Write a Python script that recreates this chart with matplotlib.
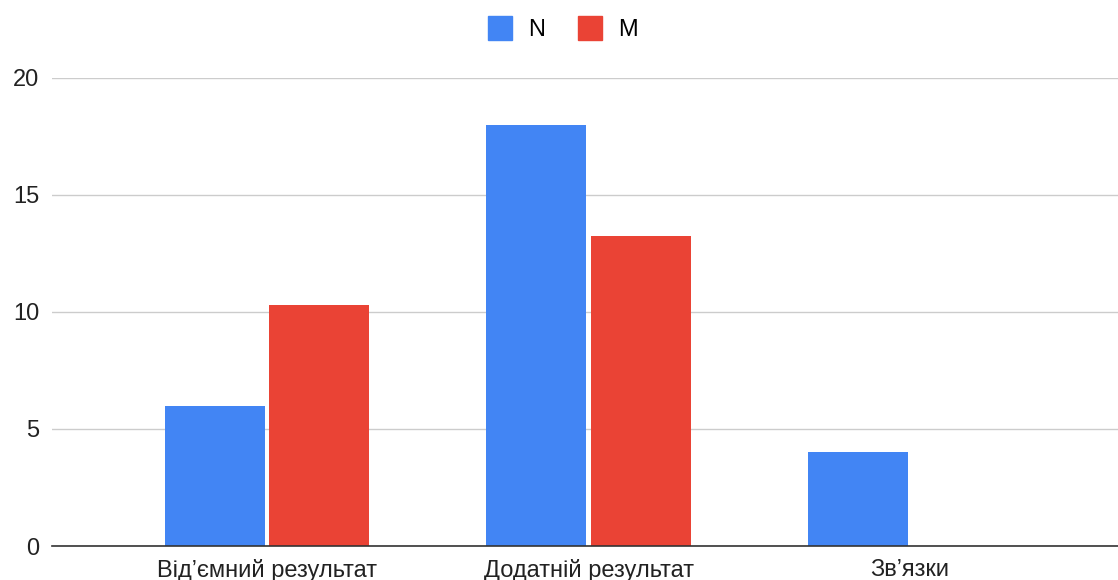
import matplotlib.pyplot as plt
from matplotlib.lines import Line2D
import numpy as np

plt.rcParams['font.family'] = ['Liberation Sans', 'DejaVu Sans']

categories = ['Від’ємний результат', 'Додатній результат', 'Зв’язки']
n_values = [6, 18, 4]
m_values = [10.3, 13.25, 0]
y_ticks = [0, 5, 10, 15, 20]

blue = '#4285F4'
red = '#EA4335'

fig = plt.figure(figsize=(11.18, 5.8), dpi=100)
ax = fig.add_axes([0.0465, 0.0586, 0.9535, 0.807])

x = np.arange(len(categories))
w = 0.311
ax.bar(x - 0.162, n_values, w, color=blue, label='N', zorder=3)
ax.bar(x + 0.162, m_values, w, color=red, label='M', zorder=3)

ax.set_xlim(-0.669, 2.647)
ax.set_ylim(0, 20)
ax.set_yticks(y_ticks)
ax.set_xticks(x)
ax.set_xticklabels(categories)
ax.tick_params(axis='both', length=0, labelsize=17, colors='#222222')
ax.tick_params(axis='y', pad=9)
ax.tick_params(axis='x', pad=9)
ax.grid(axis='y', color='#cccccc', linewidth=1, zorder=0)
for s in ['top', 'right', 'left']:
    ax.spines[s].set_visible(False)
ax.spines['bottom'].set_color('#333333')
ax.spines['bottom'].set_linewidth(1.2)
ax.spines['bottom'].set_zorder(4)

handles = [Line2D([], [], marker='s', linestyle='none', markersize=17, color=blue),
           Line2D([], [], marker='s', linestyle='none', markersize=17, color=red)]
fig.legend(handles, ['N', 'M'], loc='upper center', bbox_to_anchor=(0.4985, 1.0),
           ncol=2, frameon=False, fontsize=17, handletextpad=0.2, columnspacing=0.9,
           borderaxespad=0.4)

fig.savefig('out.png', dpi=100)
